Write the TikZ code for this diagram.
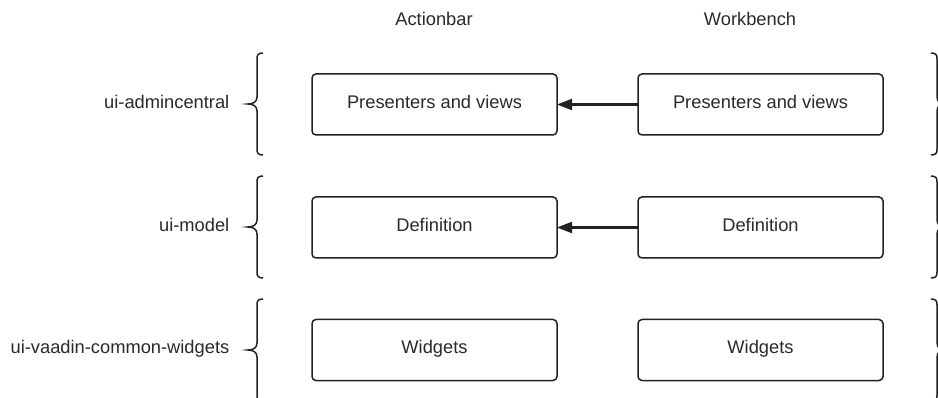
\documentclass[tikz,border=0pt]{standalone}
\usepackage{fontspec}
\setmainfont{Liberation Sans}
\usetikzlibrary{arrows.meta}
\definecolor{ink}{HTML}{222222}
\definecolor{txt}{HTML}{2A2A2A}
\begin{document}
\begin{tikzpicture}[x=1pt,y=-1pt,
  lbl/.style={font=\fontsize{18.3}{20}\selectfont, text=txt, text height=12pt, text depth=4pt, inner sep=0pt},
  modbox/.style={lbl, draw=ink, line width=1.5pt, rounded corners=4pt, minimum width=245pt, minimum height=61pt, outer sep=0pt},
  dep/.style={draw=ink, line width=2.2pt, -{Triangle[length=15pt,width=11pt]}},
  brc/.style={draw=ink, line width=1.5pt}
]
\clip (0,0) rectangle (938,398);
\fill[white] (0,0) rectangle (938,398);

% column headers
\node[lbl] (hA) at (434,22) {Actionbar};
\node[lbl] (hW) at (750,22) {Workbench};

% row labels
\node[lbl, anchor=east] (m1) at (229.5,104.5) {ui-admincentral};
\node[lbl, anchor=east] (m2) at (229.5,227.5) {ui-model};
\node[lbl, anchor=east] (m3) at (229.5,350) {ui-vaadin-common-widgets};

% boxes
\node[modbox] (a1) at (434.5,104.5) {Presenters and views};
\node[modbox] (w1) at (760.5,104.5) {Presenters and views};
\node[modbox] (a2) at (434.5,227.5) {Definition};
\node[modbox] (w2) at (760.5,227.5) {Definition};
\node[modbox] (a3) at (434.5,350) {Widgets};
\node[modbox] (w3) at (760.5,350) {Widgets};

% arrows
\draw[dep] (w1.west) -- (a1.east);
\draw[dep] (w2.west) -- (a2.east);

% left braces
\foreach \cy in {104,227,350}{
  \draw[brc] (263,\cy-51) .. controls (258,\cy-51) and (257,\cy-49) .. (257,\cy-45)
    -- (257,\cy-7) .. controls (257,\cy-2) and (253,\cy) .. (248,\cy)
    .. controls (253,\cy) and (257,\cy+2) .. (257,\cy+7)
    -- (257,\cy+45) .. controls (257,\cy+49) and (258,\cy+51) .. (263,\cy+51);
}
% right braces
\foreach \cy in {104,227,350}{
  \draw[brc] (931,\cy-51) .. controls (936,\cy-51) and (937,\cy-49) .. (937,\cy-45)
    -- (937,\cy-7) .. controls (937,\cy-2) and (941,\cy) .. (946,\cy)
    .. controls (941,\cy) and (937,\cy+2) .. (937,\cy+7)
    -- (937,\cy+45) .. controls (937,\cy+49) and (936,\cy+51) .. (931,\cy+51);
}
\end{tikzpicture}
\end{document}
